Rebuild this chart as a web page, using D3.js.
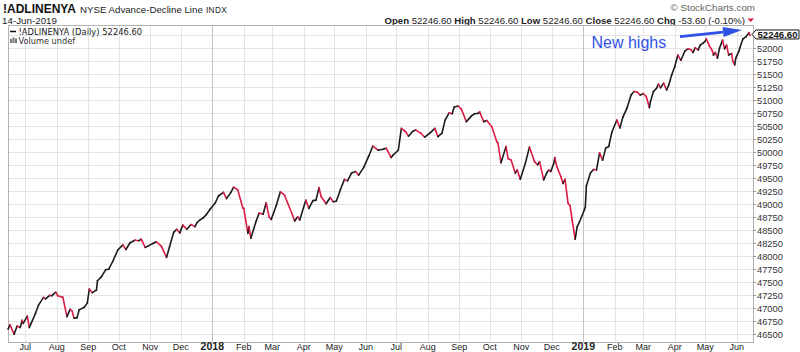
<!DOCTYPE html>
<html>
<head>
<meta charset="utf-8">
<script src="https://cdn.jsdelivr.net/npm/d3@7"></script>
<style>
  body { margin: 0; background: #fff; }
  svg { display: block; font-family: Arial, "Liberation Sans", sans-serif; }
</style>
</head>
<body>
<div id="chart"></div>
<script>
const dates = [
  "2017-06-14","2017-06-16","2017-06-20","2017-06-23","2017-06-26","2017-06-28","2017-06-29",
  "2017-07-03","2017-07-05","2017-07-07","2017-07-11","2017-07-14","2017-07-19","2017-07-21","2017-07-25","2017-07-27","2017-07-31",
  "2017-08-02","2017-08-07","2017-08-11","2017-08-14","2017-08-16","2017-08-18","2017-08-21","2017-08-23","2017-08-28","2017-08-31",
  "2017-09-02","2017-09-05","2017-09-09","2017-09-10","2017-09-14","2017-09-18","2017-09-21","2017-09-25","2017-09-30",
  "2017-10-05","2017-10-08","2017-10-12","2017-10-17","2017-10-21","2017-10-23","2017-10-27","2017-10-30",
  "2017-11-04","2017-11-07","2017-11-12","2017-11-17","2017-11-20","2017-11-24","2017-11-27","2017-11-30",
  "2017-12-03","2017-12-07","2017-12-11","2017-12-15","2017-12-17","2017-12-20","2017-12-23","2017-12-26","2017-12-30",
  "2018-01-04","2018-01-07","2018-01-12","2018-01-15","2018-01-19","2018-01-22","2018-01-26","2018-01-31",
  "2018-02-01","2018-02-05","2018-02-06","2018-02-08","2018-02-13","2018-02-16","2018-02-20","2018-02-23","2018-02-26","2018-02-28",
  "2018-03-05","2018-03-09","2018-03-13","2018-03-16","2018-03-21","2018-03-23","2018-03-26","2018-03-28",
  "2018-04-03","2018-04-06","2018-04-10","2018-04-13","2018-04-16","2018-04-18","2018-04-23","2018-04-27","2018-04-30",
  "2018-05-03","2018-05-07","2018-05-11","2018-05-14","2018-05-18","2018-05-22","2018-05-25","2018-05-30",
  "2018-06-04","2018-06-08","2018-06-13","2018-06-18","2018-06-21","2018-06-26","2018-06-28",
  "2018-07-03","2018-07-06","2018-07-10","2018-07-13","2018-07-17","2018-07-20","2018-07-25","2018-07-29",
  "2018-08-03","2018-08-08","2018-08-11","2018-08-15","2018-08-18","2018-08-22","2018-08-25","2018-08-27","2018-08-31",
  "2018-09-03","2018-09-08","2018-09-13","2018-09-16","2018-09-20","2018-09-21","2018-09-25","2018-09-28",
  "2018-10-03","2018-10-08","2018-10-09","2018-10-12","2018-10-17","2018-10-19","2018-10-22","2018-10-26","2018-10-28","2018-10-31",
  "2018-11-05","2018-11-09","2018-11-14","2018-11-17","2018-11-19","2018-11-23","2018-11-26","2018-11-28","2018-11-30",
  "2018-12-03","2018-12-04","2018-12-06","2018-12-10","2018-12-12","2018-12-14","2018-12-17","2018-12-19","2018-12-21","2018-12-24","2018-12-26","2018-12-28",
  "2019-01-02","2019-01-03","2019-01-04","2019-01-08","2019-01-11","2019-01-14","2019-01-17","2019-01-20","2019-01-23","2019-01-26","2019-01-29",
  "2019-02-03","2019-02-06","2019-02-09","2019-02-13","2019-02-17","2019-02-20","2019-02-23","2019-02-26",
  "2019-03-01","2019-03-04","2019-03-07","2019-03-08","2019-03-11","2019-03-14","2019-03-16","2019-03-18","2019-03-21","2019-03-24","2019-03-26","2019-03-29",
  "2019-04-01","2019-04-04","2019-04-07","2019-04-11","2019-04-14","2019-04-17","2019-04-19","2019-04-21","2019-04-24","2019-04-26","2019-04-29",
  "2019-05-01","2019-05-02","2019-05-05","2019-05-08","2019-05-09","2019-05-11","2019-05-13","2019-05-15","2019-05-18","2019-05-20","2019-05-22","2019-05-24","2019-05-27","2019-05-28","2019-05-30","2019-05-31",
  "2019-06-03","2019-06-04","2019-06-07","2019-06-10","2019-06-13","2019-06-14"
];
const closes = [
  46600,46680,46500,46660,46630,46770,46710,
  46850,46630,46720,46900,47060,47210,47180,47250,47240,47310,
  47240,47210,46840,46980,46950,46810,46820,46970,47020,47100,
  47370,47300,47350,47530,47610,47740,47750,47900,48120,
  48220,48130,48260,48310,48300,48330,48170,48200,
  48250,48280,48190,47980,48190,48460,48520,48450,
  48600,48520,48610,48570,48650,48700,48740,48800,48910,
  49030,49160,49230,49110,49220,49330,49280,48930,
  48920,48440,48570,48350,48670,48830,48810,49030,48750,48710,
  48980,49240,49180,49030,48790,48680,48760,48700,
  49080,48920,49070,49080,49320,49150,49010,49130,49050,
  49060,49280,49480,49450,49600,49630,49560,49710,
  49930,50120,50040,50060,50080,49900,49950,
  50040,50460,50400,50310,50400,50430,50370,50290,
  50370,50460,50300,50370,50620,50760,50740,50870,50890,
  50830,50590,50700,50740,50750,50780,50590,50610,
  50490,50200,50180,49800,50110,49880,49850,49600,49660,49480,
  49790,50100,49820,49760,49820,49470,49600,49660,49630,
  49790,49900,49720,49530,49400,49480,49020,48970,48700,48330,48570,48650,
  48890,48950,49350,49600,49670,49660,49990,49850,50080,50110,50380,
  50620,50470,50680,50850,51100,51170,51160,51100,
  51130,51070,50860,50970,51170,51230,51310,51240,51330,51200,51290,51490,
  51650,51870,51770,51950,51990,51970,51920,52010,51970,52060,52100,
  52140,52180,52050,51950,51870,51920,51810,52000,52160,51990,52060,51870,51900,51760,51680,51810,
  51940,52010,52180,52220,52300.2,52246.6
];
const yTickValues = d3.range(46500, 52251, 250);
const quoteLabels = ["Open", "High", "Low", "Close", "Chg"];
const quoteValues = ["52246.60", "52246.60", "52246.60", "52246.60", "-53.60 (-0.10%)"];

const width = 800, height = 352;
const plot = {left: 8, right: 753, top: 25, bottom: 342};
const upColor = "#1c1c1c", downColor = "#dc1c44";

const parse = d3.utcParse("%Y-%m-%d");
const data = dates.map((d, i) => ({date: parse(d), value: closes[i]}));
const last = data[data.length - 1];

const x = d3.scaleUtc()
  .domain([parse("2017-06-14"), parse("2019-06-14")])
  .range([8, 750]);
const y = d3.scaleLinear()
  .domain([46500, 52000])
  .range([334.3, 48.3]);

const svg = d3.select("#chart").append("svg")
  .attr("width", width)
  .attr("height", height);

// header
svg.append("text").attr("x", 3).attr("y", 12.5)
  .attr("font-size", 12).attr("font-weight", "bold").attr("fill", "#111")
  .text("!ADLINENYA");
svg.append("text").attr("x", 80).attr("y", 12.5)
  .attr("font-size", 9.7).attr("fill", "#222")
  .text("NYSE Advance-Decline Line");
svg.append("text").attr("x", 206).attr("y", 12.5)
  .attr("font-size", 8.3).attr("fill", "#222").attr("letter-spacing", 0.3)
  .text("INDX");
svg.append("text").attr("x", 2).attr("y", 23.5)
  .attr("font-size", 9.8).attr("fill", "#222")
  .text("14-Jun-2019");
svg.append("text").attr("x", 755).attr("y", 11)
  .attr("text-anchor", "end").attr("font-size", 9.8).attr("fill", "#666")
  .text("\u00a9 StockCharts.com");

const quote = svg.append("text").attr("x", 745).attr("y", 23.5)
  .attr("text-anchor", "end").attr("font-size", 9.6).attr("fill", "#222");
quoteLabels.forEach((l, i) => {
  quote.append("tspan").attr("font-weight", "bold").text((i ? "  " : "") + l + " ");
  quote.append("tspan").text(quoteValues[i]);
});
svg.append("path")
  .attr("d", "M747.5,18.5 L754,18.5 L750.75,22 Z")
  .attr("fill", downColor);

// grid
const grid = svg.append("g");
grid.selectAll("line.h")
  .data(yTickValues)
  .join("line")
  .attr("x1", plot.left).attr("x2", plot.right)
  .attr("y1", d => Math.round(y(d)) + 0.5).attr("y2", d => Math.round(y(d)) + 0.5)
  .attr("stroke", "#e4e4e4");

const months = d3.utcMonths(parse("2017-07-01"), parse("2019-06-14"));
grid.selectAll("line.v")
  .data(months)
  .join("line")
  .attr("x1", d => Math.round(x(d)) + 0.5).attr("x2", d => Math.round(x(d)) + 0.5)
  .attr("y1", plot.top).attr("y2", plot.bottom)
  .attr("stroke", d => d.getUTCMonth() === 0 ? "#c4c4c4" : "#e4e4e4");

svg.append("rect")
  .attr("x", plot.left + 0.5).attr("y", plot.top + 0.5)
  .attr("width", plot.right - plot.left).attr("height", plot.bottom - plot.top)
  .attr("fill", "none").attr("stroke", "#b4b4b4");

// right axis
const yAxis = svg.append("g").attr("font-size", 9.3).attr("fill", "#333");
yAxis.selectAll("line")
  .data(yTickValues.filter(v => v <= 52000))
  .join("line")
  .attr("x1", plot.right).attr("x2", plot.right + 3)
  .attr("y1", d => Math.round(y(d)) + 0.5).attr("y2", d => Math.round(y(d)) + 0.5)
  .attr("stroke", "#999");
yAxis.selectAll("text")
  .data(yTickValues.filter(v => v <= 52000))
  .join("text")
  .attr("x", 757).attr("y", d => y(d) + 3.3)
  .text(d => d);

// bottom axis
svg.append("g").selectAll("text")
  .data(months)
  .join("text")
  .attr("x", d => x(d))
  .attr("y", 350)
  .attr("text-anchor", "middle")
  .attr("font-size", d => d.getUTCMonth() === 0 ? 10.5 : 9)
  .attr("font-weight", d => d.getUTCMonth() === 0 ? "bold" : "normal")
  .attr("fill", "#222")
  .text(d => d.getUTCMonth() === 0 ? d3.utcFormat("%Y")(d) : d3.utcFormat("%b")(d));

// price line, black on up days, red on down days
const segs = d3.pairs(data);
svg.append("g")
  .attr("fill", "none")
  .attr("stroke-width", 1.6)
  .attr("stroke-linecap", "round")
  .attr("stroke-linejoin", "round")
  .selectAll("line")
  .data(segs)
  .join("line")
  .attr("x1", d => x(d[0].date)).attr("y1", d => y(d[0].value))
  .attr("x2", d => x(d[1].date)).attr("y2", d => y(d[1].value))
  .attr("stroke", d => d[1].value >= d[0].value ? upColor : downColor);

// legend
svg.append("line")
  .attr("x1", 10).attr("x2", 16).attr("y1", 31.5).attr("y2", 31.5)
  .attr("stroke", "#111").attr("stroke-width", 1.5);
svg.append("text").attr("x", 18.5).attr("y", 34.5)
  .attr("font-family", "'DejaVu Sans', Verdana, sans-serif")
  .attr("font-size", 8.4).attr("fill", "#222")
  .text("!ADLINENYA (Daily) " + last.value.toFixed(2));
const vol = svg.append("g").attr("fill", "#777");
[[10, 39, 2, 4], [12.5, 37.5, 2, 5.5], [15, 38.5, 2, 4.5]].forEach(b =>
  vol.append("rect").attr("x", b[0]).attr("y", b[1]).attr("width", b[2]).attr("height", b[3]));
svg.append("text").attr("x", 18.5).attr("y", 43.5)
  .attr("font-family", "'DejaVu Sans', Verdana, sans-serif")
  .attr("font-size", 8.2).attr("fill", "#333")
  .text("Volume undef");

// last value tag
const ly = y(last.value) - 1;
svg.append("path")
  .attr("d", `M752,${ly} L756,${ly - 4.5} L799,${ly - 4.5} L799,${ly + 4.5} L756,${ly + 4.5} Z`)
  .attr("fill", "#fff").attr("stroke", "#111").attr("stroke-width", 1);
svg.append("text").attr("x", 757.5).attr("y", ly + 3.4)
  .attr("font-size", 9.6).attr("font-weight", "bold").attr("fill", "#111")
  .text(last.value.toFixed(2));

// annotation
const blue = "#3050e6";
svg.append("text").attr("x", 591.5).attr("y", 47.5)
  .attr("font-size", 16).attr("fill", blue)
  .text("New highs");
const ax0 = 680, ay0 = 36.7, ax1 = 742, ay1 = 30;
const ang = Math.atan2(ay1 - ay0, ax1 - ax0);
const hl = 19, hw = 5;
const bx = ax1 - hl * Math.cos(ang), by = ay1 - hl * Math.sin(ang);
svg.append("line")
  .attr("x1", ax0).attr("y1", ay0).attr("x2", bx).attr("y2", by)
  .attr("stroke", blue).attr("stroke-width", 2.8);
svg.append("path")
  .attr("d", `M${ax1},${ay1} L${bx - hw * Math.sin(ang)},${by + hw * Math.cos(ang)} L${bx + hw * Math.sin(ang)},${by - hw * Math.cos(ang)} Z`)
  .attr("fill", blue);
</script>
</body>
</html>
